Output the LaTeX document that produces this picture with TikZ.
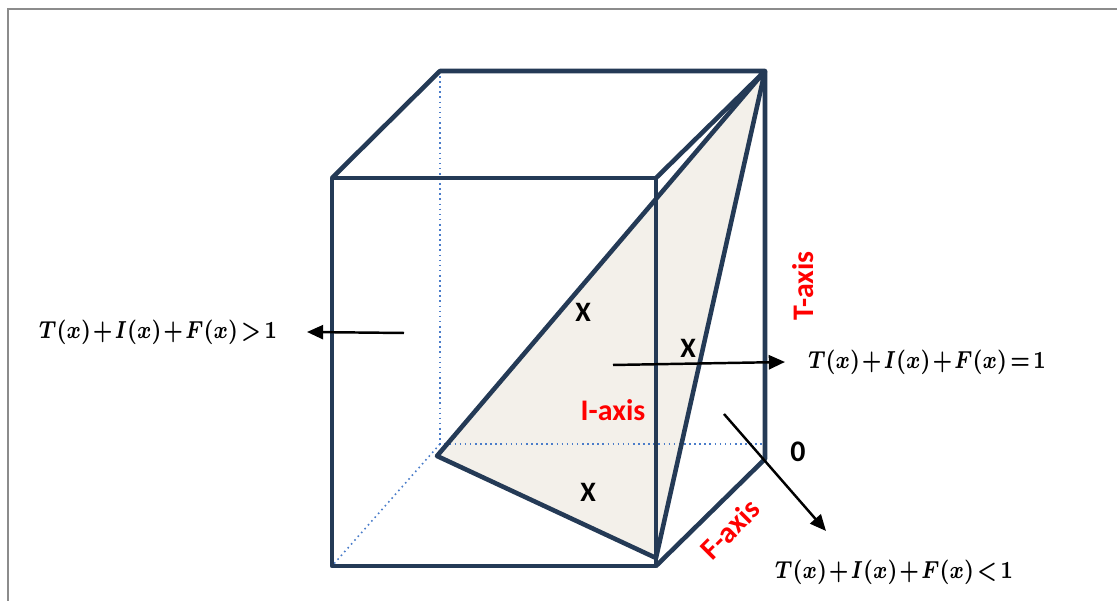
\documentclass[tikz,border=0pt]{standalone}
\usepackage{fontspec}
\setsansfont{Carlito}
\usepackage{amsmath}
\usepackage{bm}
\usepackage{graphicx}
\usetikzlibrary{arrows.meta}

\definecolor{edgeblue}{HTML}{243A56}
\definecolor{hiddenblue}{HTML}{4A7CC9}
\definecolor{planefill}{HTML}{F3F0EA}
\definecolor{framegray}{HTML}{8C8C8C}

\newcommand{\condfont}{\fontsize{6.6}{8}\selectfont
  \medmuskip=1.5mu\relax\thickmuskip=2.5mu\relax}
\newcommand{\cond}[1]{\scalebox{0.8}[1]{$\bm{#1}$}}

\tikzset{
  edge/.style={edgeblue, line width=1.3pt, line join=round},
  hidden/.style={hiddenblue, line width=0.45pt, densely dotted},
  pointer/.style={black, line width=0.7pt, -{Triangle[length=4.6pt,width=4pt]}},
  axislabel/.style={red, font=\sffamily\bfseries\fontsize{8.5}{10}\selectfont},
  xtag/.style={font=\sffamily\bfseries\fontsize{8}{9}\selectfont},
  formula/.style={inner sep=1pt, font=\condfont}
}

\begin{document}
\begin{tikzpicture}[x=0.01cm, y=-0.01cm]
  \useasboundingbox (0,0) rectangle (1117,601);
  % Page frame
  \draw[framegray, line width=0.6pt] (8,601) -- (8,9) -- (1117,9);
  % Cube corners
  \coordinate (ftl) at (332,178);
  \coordinate (ftr) at (656,178);
  \coordinate (fbl) at (332,566);
  \coordinate (fbr) at (656,566);
  \coordinate (btl) at (440,71);
  \coordinate (btr) at (765,71);
  \coordinate (bbr) at (765,459);
  \coordinate (bbl) at (440,444);
  \coordinate (bbe) at (763,444);
  % Plane corners
  \coordinate (pl) at (437,456);
  \coordinate (pb) at (656,558);
  % Shaded plane
  \fill[planefill] (btr) -- (pl) -- (pb) -- cycle;
  % Hidden edges
  \draw[hidden] (btl) -- (bbl) -- (bbe);
  \draw[hidden] (bbl) -- (fbl);
  % Visible edges
  \draw[edge] (ftl) -- (ftr) -- (fbr) -- (fbl) -- cycle;
  \draw[edge] (ftl) -- (btl) -- (btr) -- (ftr);
  \draw[edge] (btr) -- (bbr) -- (fbr);
  \draw[edge] (btr) -- (pl) -- (pb) -- cycle;
  % Axis labels
  \node[axislabel, rotate=90] (taxis) at (803,286) {T-axis};
  \node[axislabel] (iaxis) at (613,410) {I-axis};
  \node[axislabel, rotate=45, inner sep=0pt] (faxis) at (730,529) {F-axis};
  \node[xtag, font=\sffamily\bfseries\fontsize{8.5}{9}\selectfont] (zero) at (798,452) {0};
  % X marks
  \node[xtag] (xa) at (583,312) {X};
  \node[xtag] (xb) at (688,348) {X};
  \node[xtag] (xc) at (588,492) {X};
  % Conditions
  \node[formula] (gt) at (158,332) {\cond{T(x)+I(x)+F(x)>1}};
  \node[formula] (eq) at (927,362) {\cond{T(x)+I(x)+F(x)=1}};
  \node[formula] (lt) at (894,572) {\cond{T(x)+I(x)+F(x)<1}};
  \coordinate (gtfrom) at (404,333);
  \coordinate (eqfrom) at (613,365);
  \coordinate (ltfrom) at (724,414);
  \coordinate (lttip) at (826,531);
  \draw[pointer] (gtfrom) -- (gt.east -| 307,0);
  \draw[pointer] (eqfrom) -- (eq.west -| 785,0);
  \draw[pointer] (ltfrom) -- (lttip);
\end{tikzpicture}
\end{document}
